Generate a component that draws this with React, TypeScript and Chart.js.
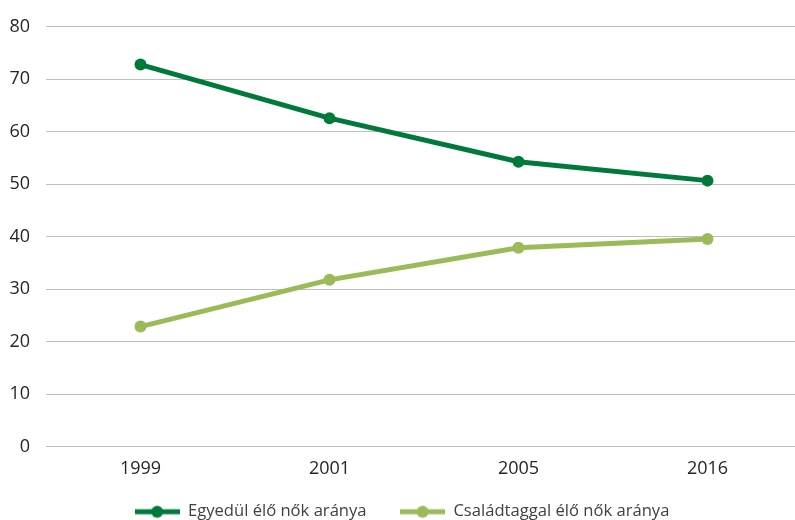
import { useEffect, useRef } from 'react';
import Chart from 'chart.js/auto';

const years = ['1999', '2001', '2005', '2016'];
const aloneShare = [72.8, 62.6, 54.3, 50.7];
const familyShare = [22.9, 31.8, 37.9, 39.6];
const yTicks = [0, 10, 20, 30, 40, 50, 60, 70, 80];

const DARK = '#007a3a';
const LIGHT = '#9bbb59';

// legend marker: short thick line with a dot in the middle
function legendMarker(color: string) {
  const c = document.createElement('canvas');
  c.width = 45;
  c.height = 14;
  const g = c.getContext('2d')!;
  g.strokeStyle = color;
  g.lineWidth = 5;
  g.beginPath();
  g.moveTo(0, 7);
  g.lineTo(45, 7);
  g.stroke();
  g.fillStyle = color;
  g.beginPath();
  g.arc(22.5, 7, 6, 0, Math.PI * 2);
  g.fill();
  return c;
}

export default function App() {
  const chartRef = useRef<HTMLCanvasElement>(null);
  const chartInstance = useRef<Chart | null>(null);

  useEffect(() => {
    if (!chartRef.current) return;
    const ctx = chartRef.current.getContext('2d');
    if (!ctx) return;
    if (chartInstance.current) chartInstance.current.destroy();

    const series = [
      { label: 'Egyedül élő nők aránya', data: aloneShare, color: DARK },
      { label: 'Családtaggal élő nők aránya', data: familyShare, color: LIGHT },
    ];

    chartInstance.current = new Chart(ctx, {
      type: 'line',
      data: {
        labels: years,
        datasets: series.map(s => ({
          label: s.label,
          data: s.data,
          borderColor: s.color,
          backgroundColor: s.color,
          borderWidth: 5,
          pointRadius: 6,
          pointBorderWidth: 0,
          pointBackgroundColor: s.color,
          pointStyle: 'circle',
          tension: 0,
          fill: false,
        })),
      },
      options: {
        animation: false,
        responsive: true,
        maintainAspectRatio: false,
        layout: { padding: { left: 0, right: 0, top: 5, bottom: -10 } },
        plugins: {
          tooltip: { enabled: false },
          legend: {
            display: true,
            position: 'bottom',
            labels: {
              color: '#404040',
              font: { family: 'Open Sans', size: 16.6 },
              usePointStyle: true,
              pointStyleWidth: 45,
              boxHeight: 14,
              padding: 12,
              // trailing spaces on all but the last entry widen the gap between entries
              generateLabels: (chart: any) =>
                chart.data.datasets.map((d: any, i: number, all: any[]) => ({
                  text: i < all.length - 1 ? d.label + '     ' : d.label,
                  fillStyle: d.borderColor,
                  strokeStyle: d.borderColor,
                  lineWidth: 0,
                  pointStyle: legendMarker(d.borderColor),
                  hidden: false,
                  datasetIndex: i,
                  fontColor: '#404040',
                })),
            },
          },
        },
        scales: {
          x: {
            offset: true,
            afterFit: (axis: any) => { axis.height = axis.height + 9; },
            grid: { display: false },
            border: { display: true, color: '#bfbfbf', width: 1 },
            ticks: { color: '#262626', font: { family: 'Open Sans', size: 18 }, padding: 3 },
          },
          y: {
            min: 0,
            max: 80,
            afterFit: (axis: any) => { axis.width = 50; },
            afterBuildTicks: (axis: any) => { axis.ticks = yTicks.map(v => ({ value: v })); },
            border: { display: false },
            grid: { color: '#bfbfbf', lineWidth: 1, drawTicks: false },
            ticks: { color: '#262626', font: { family: 'Open Sans', size: 18 }, padding: 16 },
          },
        },
      },
    });

    return () => {
      if (chartInstance.current) {
        chartInstance.current.destroy();
        chartInstance.current = null;
      }
    };
  }, []);

  // plot area runs slightly past the right edge in the original, so the canvas is a bit wider than the window
  return (
    <div style={{ position: 'fixed', left: -4, top: 0, width: 812, height: 520, background: '#fff' }}>
      <canvas ref={chartRef}></canvas>
    </div>
  );
}
